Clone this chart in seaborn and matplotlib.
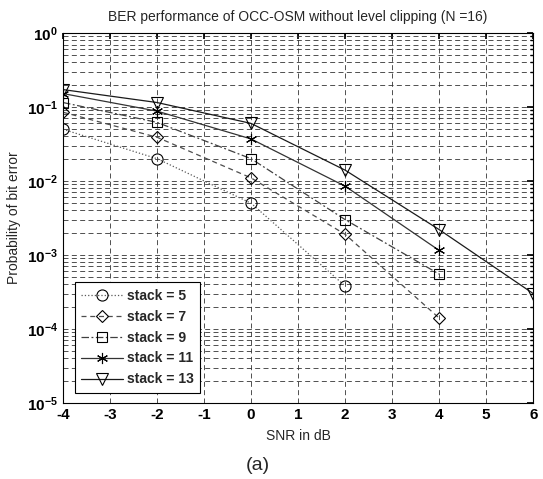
import matplotlib
matplotlib.use("Agg")
import matplotlib.pyplot as plt
import seaborn as sns
import numpy as np
import pandas as pd
from matplotlib.ticker import LogLocator, NullFormatter

sns.set_theme(style="white")
plt.rcParams['font.family'] = ['Liberation Sans', 'DejaVu Sans']
plt.rcParams['mathtext.fontset'] = 'custom'
plt.rcParams['mathtext.rm'] = 'Liberation Sans'
plt.rcParams['mathtext.bf'] = 'Liberation Sans:bold'

# ---- data ----
snr5 = [-4, -2, 0, 2]
ber5 = [0.050, 0.020, 0.0050, 3.8e-4]
snr7 = [-4, -2, 0, 2, 4]
ber7 = [0.085, 0.039, 0.0110, 0.0019, 1.4e-4]
snr9 = [-4, -2, 0, 2, 4]
ber9 = [0.115, 0.062, 0.020, 0.0030, 5.5e-4]
snr11 = [-4, -2, 0, 2, 4]
ber11 = [0.152, 0.088, 0.037, 0.0085, 0.00115]
snr13 = [-4, -2, 0, 2, 4, 6]
ber13 = [0.172, 0.115, 0.060, 0.014, 0.0022, 3.0e-4]
labels = ["stack = 5", "stack = 7", "stack = 9", "stack = 11", "stack = 13"]
xticks = [-4, -3, -2, -1, 0, 1, 2, 3, 4, 5, 6]

series = [(snr5, ber5), (snr7, ber7), (snr9, ber9), (snr11, ber11), (snr13, ber13)]
markers = ["o", "D", "s", (6, 2, 0), "v"]
styles = [":", (0, (4, 3)), (0, (6, 2, 1.5, 2)), "-", "-"]
msizes = [8, 6, 7.5, 8, 8]
colors = ["0.35", "0.3", "0.25", "0.2", "0.1"]

fig = plt.figure(figsize=(5.43, 4.79), dpi=100)
ax = fig.add_axes([0.116, 0.159, 0.866, 0.772])

for (x, y), lab, m, ls, ms, c in zip(series, labels, markers, styles, msizes, colors):
    df = pd.DataFrame({"SNR": x, "BER": y})
    sns.lineplot(data=df, x="SNR", y="BER", ax=ax, label=lab, marker=m,
                 markersize=ms, markerfacecolor="none", markeredgecolor="black",
                 markeredgewidth=0.8, color=c, linewidth=0.9, linestyle=ls)

ax.set_yscale("log")
ax.set_xlim(-4, 6)
ax.set_ylim(1e-5, 1)
ax.set_xticks(xticks)
ax.set_xticklabels([str(v) for v in xticks])
ax.yaxis.set_major_locator(LogLocator(base=10, numticks=10))
ax.yaxis.set_minor_locator(LogLocator(base=10, subs=np.arange(2, 10), numticks=20))
ax.yaxis.set_minor_formatter(NullFormatter())

ax.grid(True, which="major", axis="both", color="0.2", linestyle=(0, (6, 4)), linewidth=0.6)
ax.grid(True, which="minor", axis="y", color="0.2", linestyle=(0, (6, 4)), linewidth=0.6)

for s in ax.spines.values():
    s.set_color("black")
    s.set_linewidth(0.8)
ax.tick_params(axis="both", which="both", direction="in", top=True, right=True,
               color="black", labelsize=11, labelcolor="black")
ax.tick_params(axis="both", which="major", length=4)
ax.tick_params(axis="y", which="minor", length=2)
for t in ax.get_xticklabels() + ax.get_yticklabels():
    t.set_fontweight("bold")

ax.set_title("BER performance of OCC-OSM without level clipping (N =16)", fontsize=10, pad=9)
ax.set_xlabel("SNR in dB", fontsize=10, labelpad=5)
ax.set_ylabel("Probability of bit error", fontsize=10, labelpad=4)

leg = ax.legend(loc="lower left", bbox_to_anchor=(0.02, 0.02), frameon=True, fancybox=False,
                edgecolor="black", framealpha=1, handlelength=3.0, labelspacing=0.5,
                borderpad=0.45, handletextpad=0.3, borderaxespad=0.2,
                prop={"family": "Liberation Sans", "weight": "bold", "size": 10})
leg.get_frame().set_linewidth(0.8)

fig.text(0.475, 0.028, "(a)", fontsize=14, ha="center", va="center")

fig.savefig("out.png", dpi=100, facecolor="white")
